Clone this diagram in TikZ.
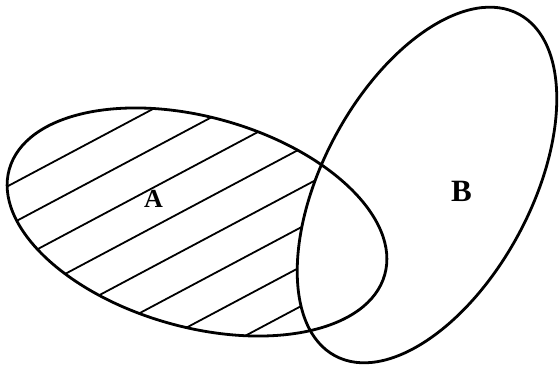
\documentclass[tikz,border=0pt]{standalone}
\usepackage{fontspec}
\setmainfont{Liberation Serif}
\usetikzlibrary{calc}

\begin{document}
\begin{tikzpicture}[
  x=1pt, y=1pt,
  outline/.style={line width=2.8pt},
  hatch/.style={line width=1.8pt},
  setlabel/.style={font=\bfseries, inner sep=0pt}
]
\useasboundingbox (0,0) rectangle (560,369);

\coordinate (cA) at (197,147);
\coordinate (cB) at (427,184);

% hatched part: A without B
\begin{scope}
  \clip (cA) ellipse [x radius=195, y radius=105, rotate=-15.7];
  \begin{scope}[shift={(10,184)}, rotate=28]
    \foreach \i in {0,...,7}
      \draw[hatch] (-150,-\i*34.8) -- (600,-\i*34.8);
  \end{scope}
  \fill[white] (cB) ellipse [x radius=194, y radius=104, rotate=61.7];
\end{scope}

\draw[outline] (cA) ellipse [x radius=195, y radius=105, rotate=-15.7];
\draw[outline] (cB) ellipse [x radius=194, y radius=104, rotate=61.7];

\node[setlabel, font=\fontsize{26}{29}\selectfont\bfseries] (labA) at (153.5,170.5) {A};
\node[setlabel, font=\fontsize{31}{34}\selectfont\bfseries] (labB) at (461.5,177.5) {B};
\end{tikzpicture}
\end{document}
